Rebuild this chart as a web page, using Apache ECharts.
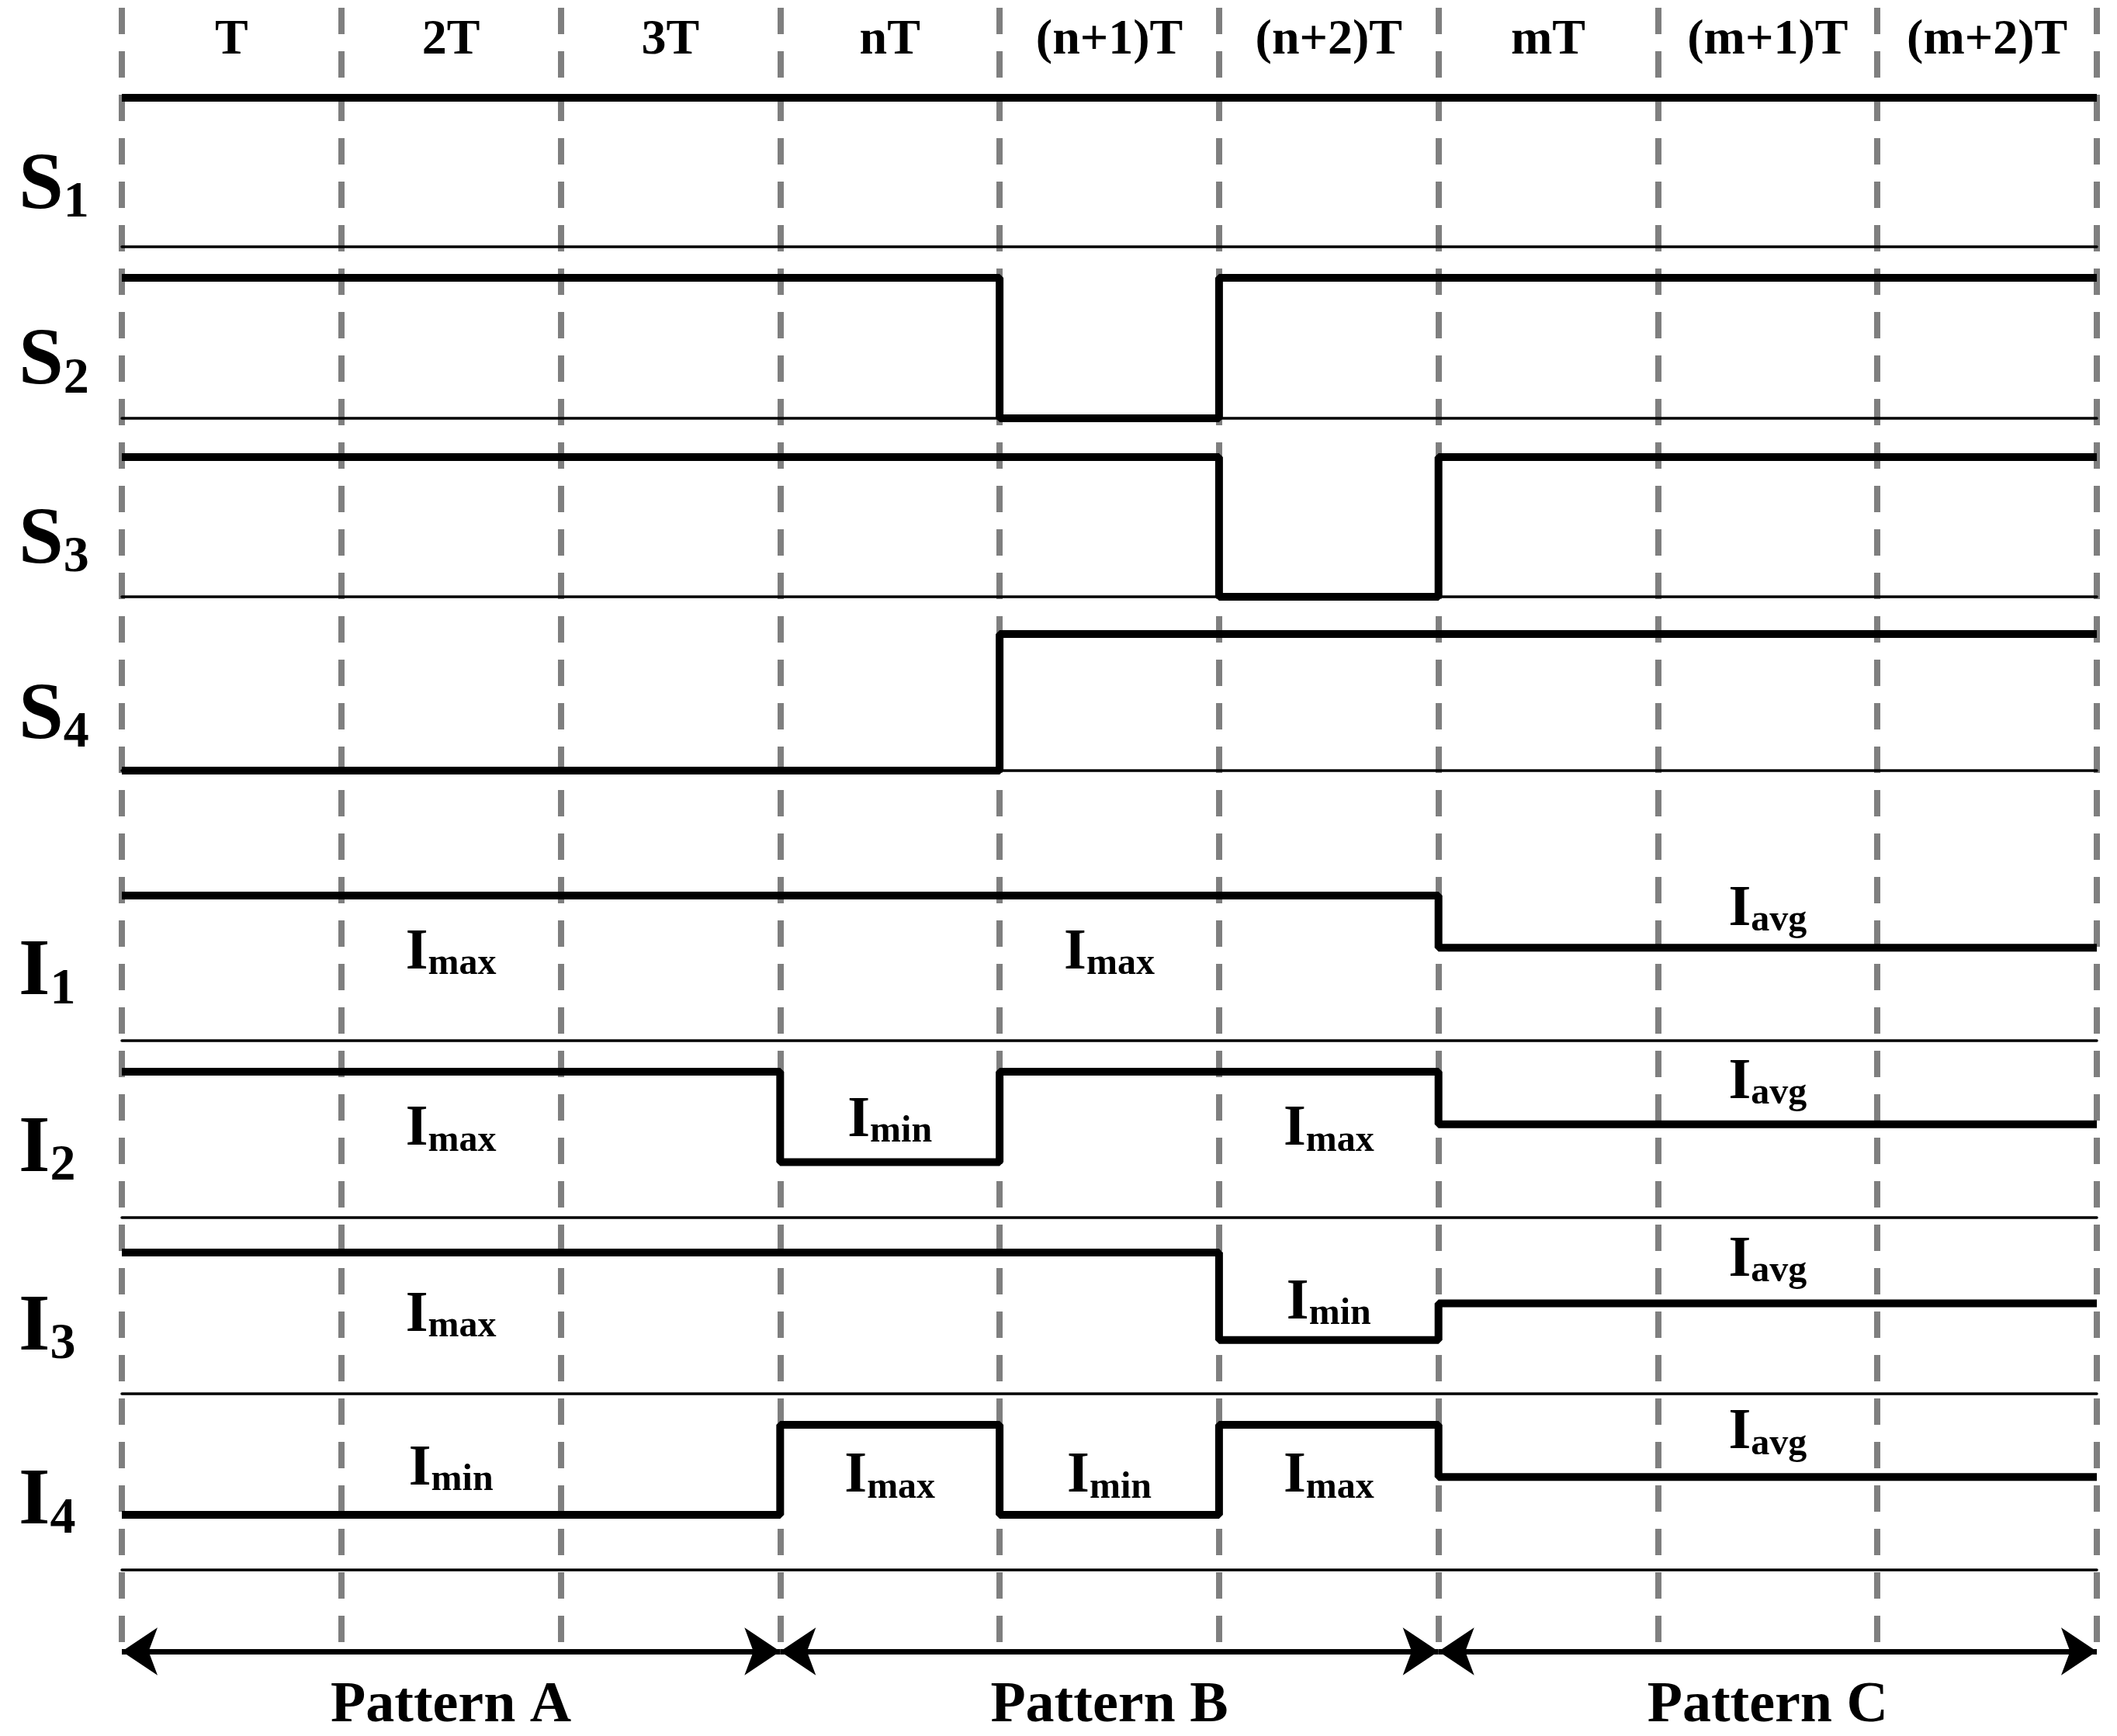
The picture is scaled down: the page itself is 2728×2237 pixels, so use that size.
<!DOCTYPE html>
<html><head><meta charset="utf-8">
<script src="https://cdn.jsdelivr.net/npm/echarts@6/dist/echarts.min.js"></script>
<style>html,body{margin:0;padding:0;background:#fff}#c{width:2728px;height:2237px}</style>
</head><body><div id="c"></div>
<script>
const periodLabels = ['T','2T','3T','nT','(n+1)T','(n+2)T','mT','(m+1)T','(m+2)T'];
const patternLabels = ['Pattern A','Pattern B','Pattern C'];
const S1 = [1,1,1,1,1,1,1,1,1];
const S2 = [1,1,1,1,0,1,1,1,1];
const S3 = [1,1,1,1,1,0,1,1,1];
const S4 = [0,0,0,0,1,1,1,1,1];
const MAX = 1, AVG = 0.64, MIN = 0.38;
const I1 = [MAX,MAX,MAX,MAX,MAX,MAX,AVG,AVG,AVG];
const I2 = [MAX,MAX,MAX,MIN,MAX,MAX,AVG,AVG,AVG];
const I3 = [MAX,MAX,MAX,MAX,MAX,MIN,AVG,AVG,AVG];
const I4 = [MIN,MIN,MIN,MAX,MIN,MAX,AVG,AVG,AVG];
const signals = [['S','1',S1],['S','2',S2],['S','3',S3],['S','4',S4],['I','1',I1],['I','2',I2],['I','3',I3],['I','4',I4]];
// level annotations: [x, y, subscript]
const I1notes = [[1.5,0.6,'max'],[4.5,0.6,'max'],[7.5,0.9,'avg']];
const I2notes = [[1.5,0.6,'max'],[3.5,0.66,'min'],[5.5,0.6,'max'],[7.5,0.92,'avg']];
const I3notes = [[1.5,0.55,'max'],[5.5,0.64,'min'],[7.5,0.94,'avg']];
const I4notes = [[1.5,0.69,'min'],[3.5,0.64,'max'],[4.5,0.64,'min'],[5.5,0.64,'max'],[7.5,0.94,'avg']];
const notes = [null,null,null,null,I1notes,I2notes,I3notes,I4notes];
const patterns = [[0,3],[3,6],[6,9]];

const rows = [[126,318],[358,539],[589,769],[817,993],[1154,1341],[1381,1569],[1614,1796],[1836,2023]];
const L = 157, R = 26, H = 2237;
const serif = 'Liberation Serif';
const grids = [], xAxes = [], yAxes = [], series = [], graphics = [];
grids.push({left:L,right:R,top:10,bottom:H-2137});
xAxes.push({gridIndex:0,type:'value',min:0,max:9,interval:1,axisLine:{show:false},axisTick:{show:false},axisLabel:{show:false},
  splitLine:{show:true,lineStyle:{color:'#7f7f7f',width:8,type:[34,22]}}});
yAxes.push({gridIndex:0,type:'value',min:0,max:1,show:false,splitLine:{show:false}});
series.push({type:'line',xAxisIndex:0,yAxisIndex:0,data:[],silent:true});
rows.forEach((r,i)=>{
  const g = grids.length;
  grids.push({left:L,right:R,top:r[0],height:r[1]-r[0]});
  xAxes.push({gridIndex:g,type:'value',min:0,max:9,interval:1,axisLine:{show:true,onZero:false,lineStyle:{color:'#000',width:3.5}},axisTick:{show:false},axisLabel:{show:false},splitLine:{show:false}});
  yAxes.push({gridIndex:g,type:'value',min:0,max:1,show:false,splitLine:{show:false}});
  const vals = signals[i][2];
  const d = vals.map((v,k)=>[k,v]); d.push([9,vals[8]]);
  series.push({type:'line',step:'end',xAxisIndex:xAxes.length-1,yAxisIndex:g,data:d,symbol:'none',lineStyle:{color:'#000',width:10},z:5});
  if (notes[i]) series.push({type:'scatter',xAxisIndex:xAxes.length-1,yAxisIndex:g,symbolSize:0,itemStyle:{opacity:1,color:'#000'},
    data:notes[i].map(n=>({value:[n[0],n[1]],sub:n[2]})),
    label:{show:true,position:'inside',color:'#000',opacity:1,formatter:p=>'{i|I}{s|'+p.data.sub+'}',
      rich:{i:{fontFamily:serif,fontWeight:'bold',fontSize:74,color:'#000'},s:{fontFamily:serif,fontWeight:'bold',fontSize:48,color:'#000',padding:[28,0,0,0]}}}});
  graphics.push({type:'text',left:24,top:(r[0]+r[1])/2+ (i<4?12:0) - 45,style:{rich:{a:{fontFamily:serif,fontWeight:'bold',fontSize:104,fill:'#000'},b:{fontFamily:serif,fontWeight:'bold',fontSize:66,fill:'#000',padding:[42,0,0,0]}},text:'{a|'+signals[i][0]+'}{b|'+signals[i][1]+'}'}});
});
xAxes.push({gridIndex:1,type:'category',data:periodLabels,position:'top',axisLine:{show:false},axisTick:{show:false},
  axisLabel:{interval:0,margin:42,fontFamily:serif,fontWeight:'bold',fontSize:64,color:'#000'}});
series.push({type:'line',xAxisIndex:xAxes.length-1,yAxisIndex:1,data:[],silent:true});
const ag = grids.length;
grids.push({left:L,right:R,top:2100,height:56});
xAxes.push({gridIndex:ag,type:'value',min:0,max:9,show:false,splitLine:{show:false}});
const axv = xAxes.length-1;
yAxes.push({gridIndex:ag,type:'value',min:0,max:1,show:false,splitLine:{show:false}});
xAxes.push({gridIndex:ag,type:'category',data:patternLabels,position:'bottom',axisLine:{show:false},axisTick:{show:false},
  axisLabel:{interval:0,margin:6,fontFamily:serif,fontWeight:'bold',fontSize:74,color:'#000'}});
series.push({type:'line',xAxisIndex:xAxes.length-1,yAxisIndex:ag,data:[],silent:true});
series.push({type:'lines',coordinateSystem:'cartesian2d',xAxisIndex:axv,yAxisIndex:ag,symbol:['arrow','arrow'],symbolSize:[46,46],
  lineStyle:{color:'#000',width:7,opacity:1},data:patterns.map(p=>({coords:[[p[0],0.5],[p[1],0.5]]}))});
const chart = echarts.init(document.getElementById('c'));
chart.setOption({animation:false,backgroundColor:'#fff',grid:grids,xAxis:xAxes,yAxis:yAxes,series:series,graphic:graphics});
</script></body></html>
